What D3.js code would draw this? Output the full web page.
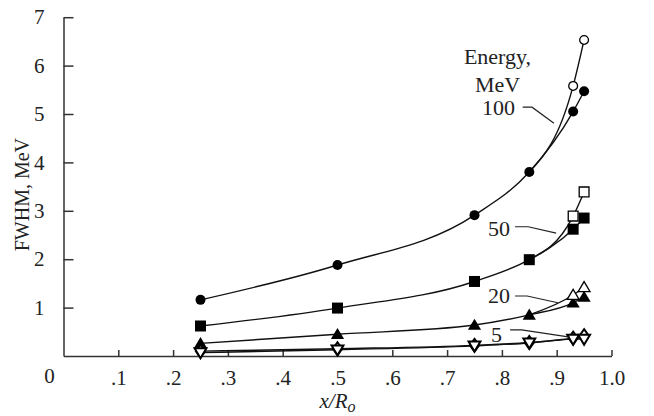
<!DOCTYPE html>
<html>
<head>
<meta charset="utf-8">
<script src="https://cdn.jsdelivr.net/npm/d3@7"></script>
<style>
  body { margin: 0; background: #fff; }
  svg text { font-family: 'Liberation Serif', 'Times New Roman', Times, serif; fill: #222; }
</style>
</head>
<body>
<div id="chart"></div>
<script>
// Data
const xPos = [0.25, 0.5, 0.75, 0.85, 0.93, 0.95];
const xOpen = [0.85, 0.93, 0.95];   // open-marker branches start at the 0.85 point

const fwhm100 = [1.16, 1.88, 2.91, 3.80, 5.05, 5.47];
const fwhm100Open = [3.80, 5.58, 6.53];
const fwhm50 = [0.62, 0.99, 1.54, 1.99, 2.62, 2.85];
const fwhm50Open = [1.99, 2.89, 3.39];
const fwhm20 = [0.26, 0.45, 0.64, 0.85, 1.10, 1.22];
const fwhm20Open = [0.85, 1.26, 1.42];
const fwhm5Tri = [0.07, 0.13, 0.21, 0.27, 0.35, 0.35];
const fwhm5Dia = [0.10, 0.15, 0.22, 0.28, 0.37, 0.42];

const xTicks = [0.1, 0.2, 0.3, 0.4, 0.5, 0.6, 0.7, 0.8, 0.9, 1.0];
const yTicks = [1, 2, 3, 4, 5, 6, 7];

// Energy labels in data units, with leader line points
const energyLabels = [
  { text: '100', x: 0.824, y: 4.98, leader: [[0.838, 5.14], [0.855, 5.14], [0.895, 4.81]] },
  { text: '50', x: 0.815, y: 2.48, leader: [[0.824, 2.67], [0.848, 2.67], [0.899, 2.54]] },
  { text: '20', x: 0.815, y: 1.10, leader: [[0.824, 1.24], [0.846, 1.24], [0.902, 1.10]] },
  { text: '5', x: 0.80, y: 0.29, leader: [[0.815, 0.54], [0.836, 0.54], [0.924, 0.39]] }
];

const W = 654, H = 416;
const serif = "'Liberation Serif', 'Times New Roman', Times, serif";
const svg = d3.select('#chart').append('svg').attr('width', W).attr('height', H)
  .attr('font-family', serif);

const x = d3.scaleLinear().domain([0, 1]).range([63.5, 611.5]);
const y = d3.scaleLinear().domain([0, 7]).range([356, 17.2]);
const axisColor = '#333';

// Axes
const xAxis = svg.append('g')
  .attr('transform', `translate(0,${y(0)})`)
  .call(d3.axisBottom(x).tickValues(xTicks).tickSizeInner(-6).tickSizeOuter(0)
    .tickPadding(18).tickFormat(d => d === 1 ? '1.0' : d3.format('.1f')(d).replace(/^0/, '')));
const yAxis = svg.append('g')
  .attr('transform', `translate(${x(0)},0)`)
  .call(d3.axisLeft(y).tickValues(yTicks).tickSizeInner(-10).tickSizeOuter(0)
    .tickPadding(19).tickFormat(d3.format('d')));
[xAxis, yAxis].forEach(g => {
  g.attr('font-family', serif).attr('font-size', 21);
  g.select('.domain').attr('stroke', axisColor).attr('stroke-width', 1.5);
  g.selectAll('.tick line').attr('stroke', axisColor).attr('stroke-width', 1.5);
  g.selectAll('.tick text').attr('fill', '#222');
});
xAxis.selectAll('.tick text').attr('dy', '0.5em');
// origin label
svg.append('text').attr('x', x(0) - 14).attr('y', y(0) + 27)
  .attr('font-size', 21).attr('text-anchor', 'middle').text('0');

// Axis titles
svg.append('text')
  .attr('transform', `translate(29,${(y(0) + y(7)) / 2 + 8}) rotate(-90)`)
  .attr('text-anchor', 'middle').attr('font-size', 20).text('FWHM, MeV');
const xt = svg.append('text').attr('x', x(0.5)).attr('y', 408)
  .attr('text-anchor', 'middle').attr('font-size', 21).attr('font-style', 'italic');
xt.append('tspan').text('x/R');
xt.append('tspan').attr('font-size', 16).attr('dy', 4).text('o');

// Curves
const line = d3.line().x(d => x(d[0])).y(d => y(d[1])).curve(d3.curveMonotoneX);
const zip = (xs, ys) => xs.map((v, i) => [v, ys[i]]);
const series = [
  { pts: zip(xPos, fwhm100), shape: 'circle', fill: true, from: 0 },
  { pts: zip(xOpen, fwhm100Open), shape: 'circle', fill: false, from: 1 },
  { pts: zip(xPos, fwhm50), shape: 'square', fill: true, from: 0 },
  { pts: zip(xOpen, fwhm50Open), shape: 'square', fill: false, from: 1 },
  { pts: zip(xPos, fwhm20), shape: 'triangle', fill: true, from: 0 },
  { pts: zip(xOpen, fwhm20Open), shape: 'triangle', fill: false, from: 1 },
  { pts: zip(xPos, fwhm5Dia), shape: 'diamond', fill: false, from: 0 },
  { pts: zip(xPos, fwhm5Tri), shape: 'down', fill: false, from: 0 }
];

series.forEach(s => {
  svg.append('path').datum(s.pts).attr('d', line)
    .attr('fill', 'none').attr('stroke', '#111').attr('stroke-width', 1.4);
});

const shapePath = {
  circle: r => d3.symbol(d3.symbolCircle, Math.PI * r * r)(),
  square: r => `M${-r},${-r}H${r}V${r}H${-r}Z`,
  triangle: r => `M0,${-r * 1.05}L${r * 1.1},${r * 0.8}L${-r * 1.1},${r * 0.8}Z`,
  down: r => `M0,${r * 1.05}L${r * 1.1},${-r * 0.8}L${-r * 1.1},${-r * 0.8}Z`,
  diamond: r => `M0,${-r * 1.2}L${r * 0.85},0L0,${r * 1.2}L${-r * 0.85},0Z`
};
const sizes = { circle: 5, square: 5.5, triangle: 6, down: 6, diamond: 6 };

series.forEach(s => {
  svg.append('g').selectAll('path')
    .data(s.pts.slice(s.from))
    .join('path')
    .attr('transform', d => `translate(${x(d[0])},${y(d[1])})`)
    .attr('d', shapePath[s.shape](s.fill ? sizes[s.shape] : sizes[s.shape] - 0.6))
    .attr('fill', s.fill ? '#000' : '#fff')
    .attr('stroke', '#000')
    .attr('stroke-width', s.fill ? 0 : (s.shape === 'down' || s.shape === 'diamond' ? 2 : 1.3));
});

// Energy annotation
svg.append('text').attr('x', x(0.792)).attr('y', y(6.03))
  .attr('text-anchor', 'middle').attr('font-size', 22).text('Energy,');
svg.append('text').attr('x', x(0.792)).attr('y', y(5.46))
  .attr('text-anchor', 'middle').attr('font-size', 22).text('MeV');

const leader = d3.line().x(d => x(d[0])).y(d => y(d[1]));
energyLabels.forEach(l => {
  svg.append('text').attr('x', x(l.x)).attr('y', y(l.y))
    .attr('text-anchor', 'end').attr('font-size', 22).text(l.text);
  svg.append('path').datum(l.leader).attr('d', leader)
    .attr('fill', 'none').attr('stroke', '#222').attr('stroke-width', 1.2);
});
</script>
</body>
</html>
